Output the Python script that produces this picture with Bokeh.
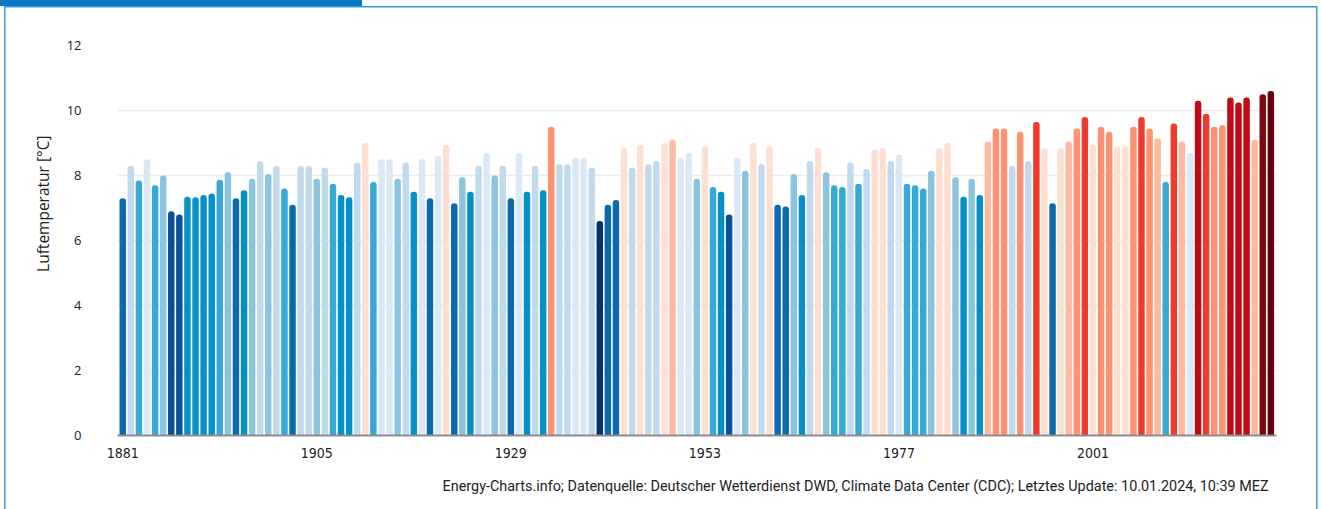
from bokeh.plotting import figure
from bokeh.models import ColumnDataSource, FixedTicker, Range1d, Title
from bokeh.embed import file_html
from bokeh.resources import INLINE

years = list(range(1881, 2024))
temps = [
    7.3, 8.3, 7.85, 8.5, 7.7, 8.0, 6.9, 6.8, 7.35, 7.33,          # 1881-1890
    7.4, 7.45, 7.87, 8.1, 7.3, 7.55, 7.9, 8.45, 8.05, 8.3,        # 1891-1900
    7.6, 7.1, 8.3, 8.3, 7.9, 8.25, 7.75, 7.4, 7.33, 8.4,          # 1901-1910
    9.0, 7.8, 8.5, 8.5, 7.9, 8.4, 7.5, 8.5, 7.3, 8.6,             # 1911-1920
    8.95, 7.15, 7.95, 7.5, 8.3, 8.7, 8.0, 8.3, 7.3, 8.7,          # 1921-1930
    7.5, 8.3, 7.55, 9.5, 8.35, 8.35, 8.55, 8.55, 8.25, 6.6,       # 1931-1940
    7.1, 7.25, 8.85, 8.25, 8.95, 8.35, 8.45, 9.0, 9.1, 8.55,      # 1941-1950
    8.7, 7.9, 8.9, 7.65, 7.5, 6.8, 8.55, 8.15, 9.0, 8.35,         # 1951-1960
    8.9, 7.1, 7.05, 8.05, 7.4, 8.45, 8.85, 8.1, 7.7, 7.65,        # 1961-1970
    8.4, 7.75, 8.2, 8.8, 8.85, 8.45, 8.65, 7.75, 7.7, 7.6,        # 1971-1980
    8.15, 8.85, 9.0, 7.95, 7.35, 7.9, 7.4, 9.05, 9.45, 9.45,      # 1981-1990
    8.3, 9.35, 8.45, 9.65, 8.85, 7.15, 8.85, 9.05, 9.45, 9.8,     # 1991-2000
    8.95, 9.5, 9.35, 8.9, 8.9, 9.5, 9.8, 9.45, 9.15, 7.8,         # 2001-2010
    9.6, 9.05, 8.7, 10.3, 9.9, 9.5, 9.55, 10.4, 10.25, 10.4,      # 2011-2020
    9.1, 10.5, 10.6,                                              # 2021-2023
]
assert len(years) == len(temps)

x_tick_years = [1881, 1905, 1929, 1953, 1977, 2001]
y_ticks = [0, 2, 4, 6, 8, 10, 12]

y_title = "Luftemperatur [°C]"
footer = ("Energy-Charts.info; Datenquelle: Deutscher Wetterdienst DWD, Climate Data Center (CDC); "
          "Letztes Update: 10.01.2024, 10:39 MEZ")

# warming-stripes style colour scale
bins = [6.7, 7.0, 7.32, 7.6, 7.88, 8.2, 8.5, 8.78, 9.05, 9.25, 9.58, 9.95, 10.45, 10.55]
palette = ["#08306b", "#08519c", "#0b6aae", "#0591c8", "#36a9d6", "#8cc4e0", "#c2daee",
           "#dbe9f6", "#fde0d2", "#fcbba1", "#fc9272", "#ef3b2c", "#c00b15", "#7a0a12", "#67000d"]


def stripe_color(t):
    for b, c in zip(bins, palette):
        if t < b:
            return c
    return palette[-1]


colors = [stripe_color(t) for t in temps]
src = ColumnDataSource(dict(year=years, temp=temps, color=colors))

W, H = 1321, 509
p = figure(width=W, height=H, output_backend="svg", toolbar_location=None,
           x_range=Range1d(1880.35, 2023.7), y_range=Range1d(0, 12),
           min_border_left=117, min_border_right=45, min_border_top=45, min_border_bottom=74)

frame_blue = "#3d97d4"
tab_blue = "#0a78c2"
p.styles = {
    "background": (
        f"linear-gradient({tab_blue}, {tab_blue}) no-repeat 0px 0px / 362px 6px, "
        f"linear-gradient({frame_blue}, {frame_blue}) no-repeat 4px 6px / 1313px 1.5px, "
        f"linear-gradient({frame_blue}, {frame_blue}) no-repeat 4px 6px / 1.5px 503px, "
        f"linear-gradient({frame_blue}, {frame_blue}) no-repeat 1315.5px 6px / 1.5px 503px, "
        "#ffffff"
    ),
}

p.vbar(x="year", top="temp", bottom=0, width=0.8, fill_color="color", line_color=None,
       border_radius=(3, 3, 0, 0), source=src)

p.outline_line_color = None
p.background_fill_color = "white"
p.border_fill_color = None

p.xgrid.grid_line_color = None
p.ygrid.grid_line_color = "#ebebeb"
p.ygrid.grid_line_width = 1.5
p.ygrid.ticker = FixedTicker(ticks=y_ticks)

p.xaxis.ticker = FixedTicker(ticks=x_tick_years)
p.xaxis.axis_line_color = "#8c8c8c"
p.xaxis.axis_line_width = 2
p.xaxis.major_tick_line_color = None
p.xaxis.minor_tick_line_color = None
p.xaxis.major_label_text_font = "DejaVu Sans Condensed"
p.xaxis.major_label_text_font_size = "14px"
p.xaxis.major_label_text_color = "#222222"
p.xaxis.major_label_standoff = 6

p.yaxis.ticker = FixedTicker(ticks=y_ticks)
p.yaxis.axis_line_color = None
p.yaxis.major_tick_line_color = None
p.yaxis.minor_tick_line_color = None
p.yaxis.major_label_text_font = "Open Sans"
p.yaxis.major_label_text_font_size = "13px"
p.yaxis.major_label_text_color = "#222222"
p.yaxis.major_label_standoff = 30

p.add_layout(Title(text=y_title, align="right", offset=90, standoff=20,
                   text_font="Open Sans", text_font_size="15.5px", text_font_style="normal",
                   text_color="#222222"), "left")

p.add_layout(Title(text=footer, align="right", offset=8, standoff=30,
                   text_font="Roboto", text_font_size="14.4px", text_font_style="normal",
                   text_color="#222222"), "below")

open("out.html", "w").write(file_html(p, INLINE))
